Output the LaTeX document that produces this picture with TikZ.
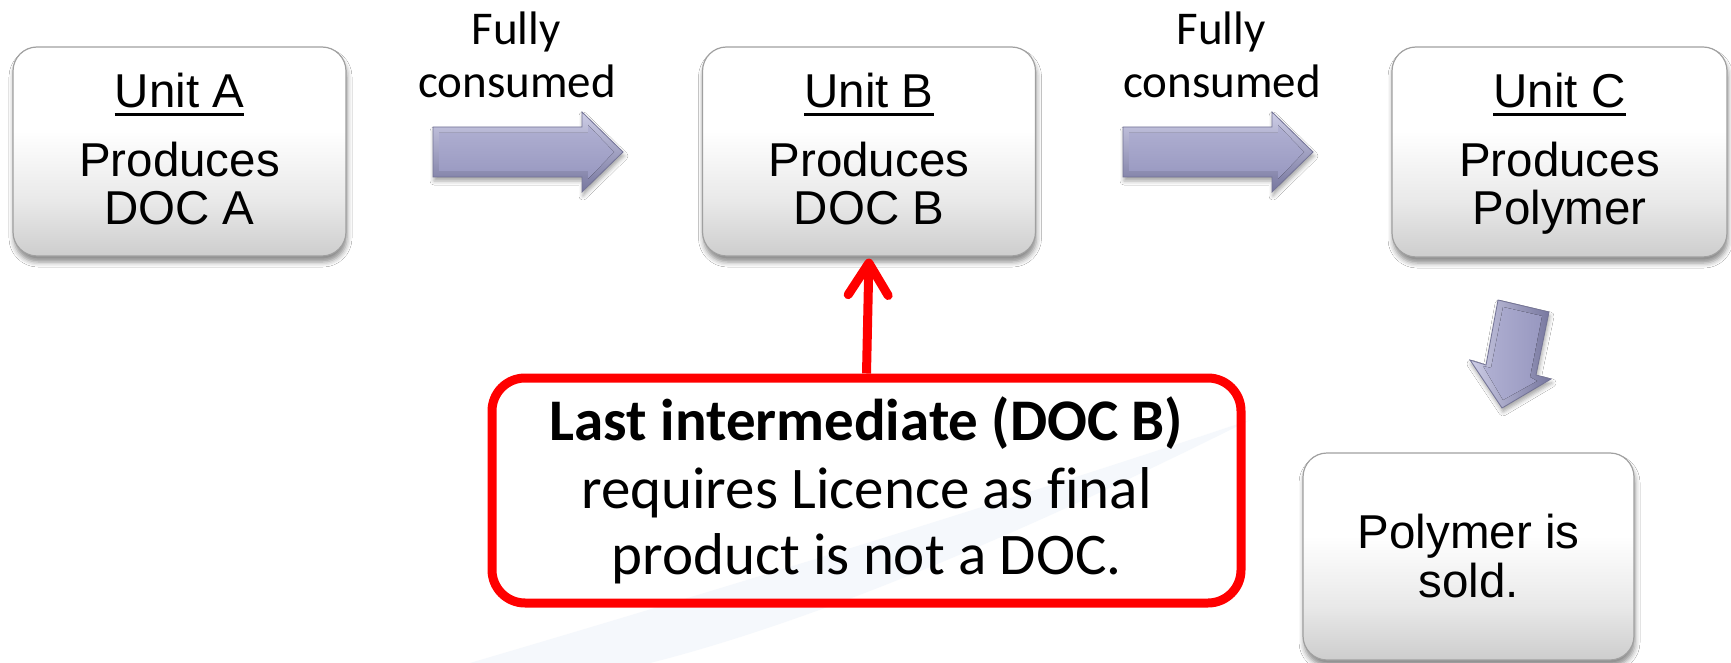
\documentclass[tikz,border=0pt]{standalone}
\usepackage{fontspec}
\setmainfont{Liberation Sans}
\newfontfamily\calibri[Ligatures=NoCommon]{Carlito}
\usetikzlibrary{shadows.blur,arrows.meta}
\definecolor{boxedge}{RGB}{160,160,160}
\definecolor{boxbot}{RGB}{205,205,205}
\definecolor{arrtop}{RGB}{205,205,230}
\definecolor{arrbot}{RGB}{118,118,158}
\definecolor{arrmid}{RGB}{176,176,210}
\definecolor{arrmidb}{RGB}{152,152,192}
\definecolor{arredge}{RGB}{115,115,150}
\definecolor{swoosh}{RGB}{245,248,252}
\definecolor{redline}{RGB}{255,0,0}
\pgfdeclareverticalshading{unitshade}{100bp}{color(0bp)=(boxbot); color(25bp)=(boxbot); color(38bp)=(boxbot!45!white); color(55bp)=(white); color(100bp)=(white)}
\tikzset{
  unitbox/.style={rounded corners=24pt, draw=boxedge, line width=1.2pt, shade, shading=unitshade,
    inner sep=0pt, minimum width=333pt, minimum height=209pt,
    blur shadow={shadow xshift=1pt, shadow yshift=-6pt, shadow blur radius=5pt, shadow opacity=45}},
  boxtxt/.style={font=\fontsize{47.5}{48}\selectfont, anchor=base, inner sep=0pt},
  uline/.style={line width=3.2pt},
  flowtxt/.style={font=\calibri\fontsize{47}{50}\selectfont, anchor=base, inner sep=0pt},
  notetxt/.style={font=\calibri\fontsize{59}{66}\selectfont, anchor=base, inner sep=0pt},
  notebox/.style={draw=redline, line width=9pt, rounded corners=33pt, minimum width=749pt,
    minimum height=225pt, inner sep=0pt},
  notearrow/.style={draw=redline, line width=9pt, shorten >=2pt,
    -{Straight Barb[length=32pt, width=40pt, round]}},
  blockarrow/.style={top color=arrtop, bottom color=arrbot, draw=arredge, line width=0.8pt,
    blur shadow={shadow xshift=1pt, shadow yshift=-4pt, shadow blur radius=4pt, shadow opacity=35}},
  blockinner/.style={top color=arrmid, bottom color=arrmidb},
}
\begin{document}
\begin{tikzpicture}[x=1pt,y=-1pt]
\useasboundingbox (0,0) rectangle (1731,663);
\fill[white] (0,0) rectangle (1731,663);
% faint background swoosh
\fill[swoosh] (470,663) .. controls (650,610) and (950,520) .. (1250,420)
  .. controls (1000,545) and (800,625) .. (650,663) -- cycle;

% unit boxes
\node[unitbox] (boxA) at (179.5,151.5) {};
\node[unitbox] (boxB) at (869,151.5) {};
\node[unitbox, minimum width=335pt, minimum height=210pt] (boxC) at (1559.5,152) {};
\node[unitbox, minimum width=331pt, minimum height=207pt] (boxP) at (1468.5,556.5) {};

% box texts
\node[boxtxt] (a1) at (179.5,108) {Unit A};
\node[boxtxt] (a2) at (179.5,177) {Produces};
\node[boxtxt] (a3) at (179.5,225) {DOC A};
\node[boxtxt] (b1) at (869,108) {Unit B};
\node[boxtxt] (b2) at (869,177) {Produces};
\node[boxtxt] (b3) at (869,225) {DOC B};
\node[boxtxt] (c1) at (1559.5,108) {Unit C};
\node[boxtxt] (c2) at (1559.5,177) {Produces};
\node[boxtxt] (c3) at (1559.5,225) {Polymer};
\node[boxtxt] (p1) at (1468.5,548) {Polymer is};
\node[boxtxt] (p2) at (1468.5,597) {sold.};
\foreach \n in {a1,b1,c1}
  \draw[uline] ([yshift=-6.5pt]\n.base west) -- ([yshift=-6.5pt]\n.base east);

% flow labels
\node[flowtxt] (f1) at (516,45) {Fully};
\node[flowtxt] (f2) at (517,98) {consumed};
\node[flowtxt] (g1) at (1221,45) {Fully};
\node[flowtxt] (g2) at (1222,98) {consumed};

% block arrows
\foreach \sx in {433,1123}{
  \begin{scope}[shift={(\sx,152)}]
    \path[blockarrow] (0,-25) -- (149,-25) -- (149,-40) -- (190,0) -- (149,40) -- (149,25) -- (0,25) -- cycle;
    \fill[blockinner] (6,-19) -- (155,-19) -- (155,-27) -- (181,0) -- (155,27) -- (155,19) -- (6,19) -- cycle;
  \end{scope}
}
% down arrow
\path[blockarrow, left color=arrtop, right color=arrbot]
  (1498,300) -- (1549,312) -- (1536,375) -- (1551,379) -- (1502,408) -- (1470,360) -- (1486,365) -- cycle;
\fill[left color=arrmid, right color=arrmidb]
  (1503,307) -- (1542,316) -- (1530,377) -- (1537,381) -- (1503,400) -- (1483,366) -- (1491,368) -- cycle;

% note box
\node[notebox] (note) at (866.5,490.5) {};
\node[notetxt] (n1) at (866.5,440) {\bfseries Last intermediate (DOC B)};
\node[notetxt] (n2) at (866.5,508) {requires Licence as final};
\node[notetxt] (n3) at (866.5,574) {product is not a DOC.};
\draw[notearrow] (note.north) -- (boxB.south);
\end{tikzpicture}
\end{document}
